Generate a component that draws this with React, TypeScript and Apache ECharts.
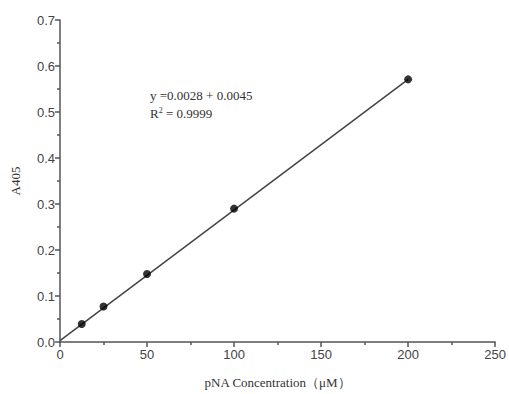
import React, { useEffect, useRef } from "react";
import * as echarts from "echarts";

const concentrations = [12.5, 25, 50, 100, 200];
const absorbance = [0.039, 0.077, 0.148, 0.29, 0.571];
const fitX = [0, 200];
const fitY = [0.003, 0.571];
const xTicks = { min: 0, max: 250, interval: 50 };
const yTicks = { min: 0, max: 0.7, interval: 0.1 };
const equationText = "y =0.0028 + 0.0045";
const r2Value = "0.9999";

export default function App() {
  const ref = useRef<HTMLDivElement>(null);
  useEffect(() => {
    if (!ref.current) return;
    const chart = echarts.init(ref.current, undefined, { renderer: "svg" });
    const axisColor = "#555";
    const labelStyle = { color: "#444", fontFamily: "Liberation Sans, Arial, sans-serif", fontSize: 13 };
    chart.setOption({
      animation: false,
      backgroundColor: "#fff",
      grid: { left: 60, right: 10, top: 20, bottom: 52, containLabel: false },
      xAxis: {
        type: "value",
        min: xTicks.min,
        max: xTicks.max,
        interval: xTicks.interval,
        name: "pNA Concentration（μM）",
        nameLocation: "middle",
        nameGap: 34,
        nameTextStyle: { color: "#333", fontFamily: "Liberation Serif, Times New Roman, serif", fontSize: 13 },
        axisLine: { lineStyle: { color: axisColor, width: 1.5 } },
        axisTick: { show: true, inside: false, length: 5, lineStyle: { color: axisColor, width: 1.5 } },
        minorTick: { show: true, splitNumber: 2, length: 3, lineStyle: { color: axisColor, width: 1.5 } },
        axisLabel: { ...labelStyle, margin: 6, formatter: (v: number) => String(v) },
        splitLine: { show: false },
      },
      yAxis: {
        type: "value",
        min: yTicks.min,
        max: yTicks.max,
        interval: yTicks.interval,
        name: "A405",
        nameLocation: "middle",
        nameRotate: 90,
        nameGap: 38,
        nameTextStyle: { color: "#333", fontFamily: "Liberation Serif, Times New Roman, serif", fontSize: 13 },
        axisLine: { show: true, lineStyle: { color: axisColor, width: 1.5 } },
        axisTick: { show: true, inside: false, length: 5, lineStyle: { color: axisColor, width: 1.5 } },
        minorTick: { show: true, splitNumber: 2, length: 3, lineStyle: { color: axisColor, width: 1.5 } },
        axisLabel: { ...labelStyle, margin: 5, formatter: (v: number) => v.toFixed(1) },
        splitLine: { show: false },
      },
      series: [
        {
          type: "line",
          data: fitX.map((x, i) => [x, fitY[i]]),
          showSymbol: false,
          symbol: "none",
          lineStyle: { color: "#444", width: 1.5 },
          silent: true,
          z: 2,
        },
        {
          type: "scatter",
          data: concentrations.map((x, i) => [x, absorbance[i]]),
          symbol: "circle",
          symbolSize: 8,
          itemStyle: { color: "#000" },
          z: 3,
        },
      ],
      graphic: [
        {
          type: "text",
          left: 150,
          top: 89,
          style: {
            text: equationText,
            fill: "#333",
            font: "13px 'Liberation Serif', 'Times New Roman', serif",
          },
        },
        {
          type: "text",
          left: 150,
          top: 106,
          style: {
            text: "{a|R}{s|2}{a| = " + r2Value + "}",
            rich: {
              a: { fill: "#333", fontFamily: "Liberation Serif, Times New Roman, serif", fontSize: 13 },
              s: { fill: "#333", fontFamily: "Liberation Serif, Times New Roman, serif", fontSize: 8, verticalAlign: "top", padding: [0, 0, 6, 0] },
            },
          },
        },
      ],
    });
    return () => chart.dispose();
  }, []);
  return <div ref={ref} style={{ width: 509, height: 394, position: "absolute", left: 0, top: 0 }} />;
}
